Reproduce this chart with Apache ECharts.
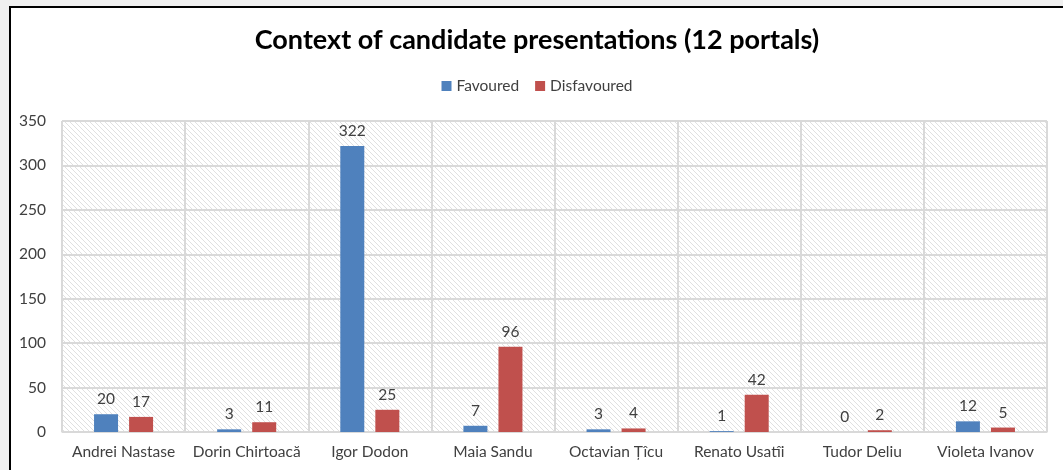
<!DOCTYPE html>
<html>
<head>
<meta charset="utf-8">
<script src="https://cdn.jsdelivr.net/npm/echarts@6/dist/echarts.min.js"></script>
<style>
html,body{margin:0;padding:0;background:#f0f0f0;width:1063px;height:470px;overflow:hidden;}
#frame{position:absolute;left:9px;top:6px;width:1060px;height:470px;border-top:2px solid #000;border-left:2px solid #000;background:#fff;}
#chart{width:1052px;height:462px;}
</style>
</head>
<body>
<div id="frame"><div id="chart"></div></div>
<script>
const categories = ['Andrei Nastase','Dorin Chirtoacă','Igor Dodon','Maia Sandu','Octavian Țîcu','Renato Usatîi','Tudor Deliu','Violeta Ivanov'];
const favoured = [20, 3, 322, 7, 3, 1, 0, 12];
const disfavoured = [17, 11, 25, 96, 4, 42, 2, 5];
const seriesNames = ['Favoured','Disfavoured'];

const pc = document.createElement('canvas');
pc.width = 5; pc.height = 5;
const ctx = pc.getContext('2d');
ctx.fillStyle = '#ffffff';
ctx.fillRect(0,0,5,5);
ctx.strokeStyle = '#e0e0e0';
ctx.lineWidth = 1;
for (let k = -5; k <= 10; k += 5) {
  ctx.beginPath();
  ctx.moveTo(k, 0);
  ctx.lineTo(k + 5, 5);
  ctx.stroke();
}

const chart = echarts.init(document.getElementById('chart'));
const font = 'Lato, "Open Sans", sans-serif';
const labelStyle = {show:true, position:'top', color:'#404040', fontSize:15.5, fontFamily:font, distance:7};
chart.setOption({
  animation:false,
  title:{text:'Context of candidate presentations (12 portals)', left:'center', top:14,
    textStyle:{fontFamily:font, fontWeight:'bold', fontSize:27, color:'#000'}},
  legend:{data:seriesNames, top:65, left:'center', itemWidth:10, itemHeight:10, itemGap:16, itemTextGap:4, icon:'rect',
    textStyle:{fontFamily:font, fontSize:15.5, color:'#404040'}},
  grid:{left:51, right:16, top:113, bottom:38, show:true, backgroundColor:{image:pc, repeat:'repeat'}, borderWidth:0},
  xAxis:{type:'category', data:categories,
    axisLine:{lineStyle:{color:'#d9d9d9', width:1}},
    axisTick:{show:false},
    splitLine:{show:true, lineStyle:{color:'#d9d9d9', width:2}},
    axisLabel:{fontFamily:font, fontSize:15.5, color:'#404040', margin:12, interval:0}},
  yAxis:{type:'value', min:0, max:350, interval:50,
    axisLine:{show:false}, axisTick:{show:false},
    splitLine:{lineStyle:{color:'#d9d9d9', width:2}},
    axisLabel:{fontFamily:font, fontSize:15.5, color:'#404040', margin:16}},
  series:[
    {name:seriesNames[0], type:'bar', data:favoured, barWidth:24, barGap:'46%', itemStyle:{color:'#4f81bd'}, label:labelStyle},
    {name:seriesNames[1], type:'bar', data:disfavoured, barWidth:24, barGap:'46%', itemStyle:{color:'#c0504d'}, label:labelStyle}
  ]
});
</script>
</body>
</html>
